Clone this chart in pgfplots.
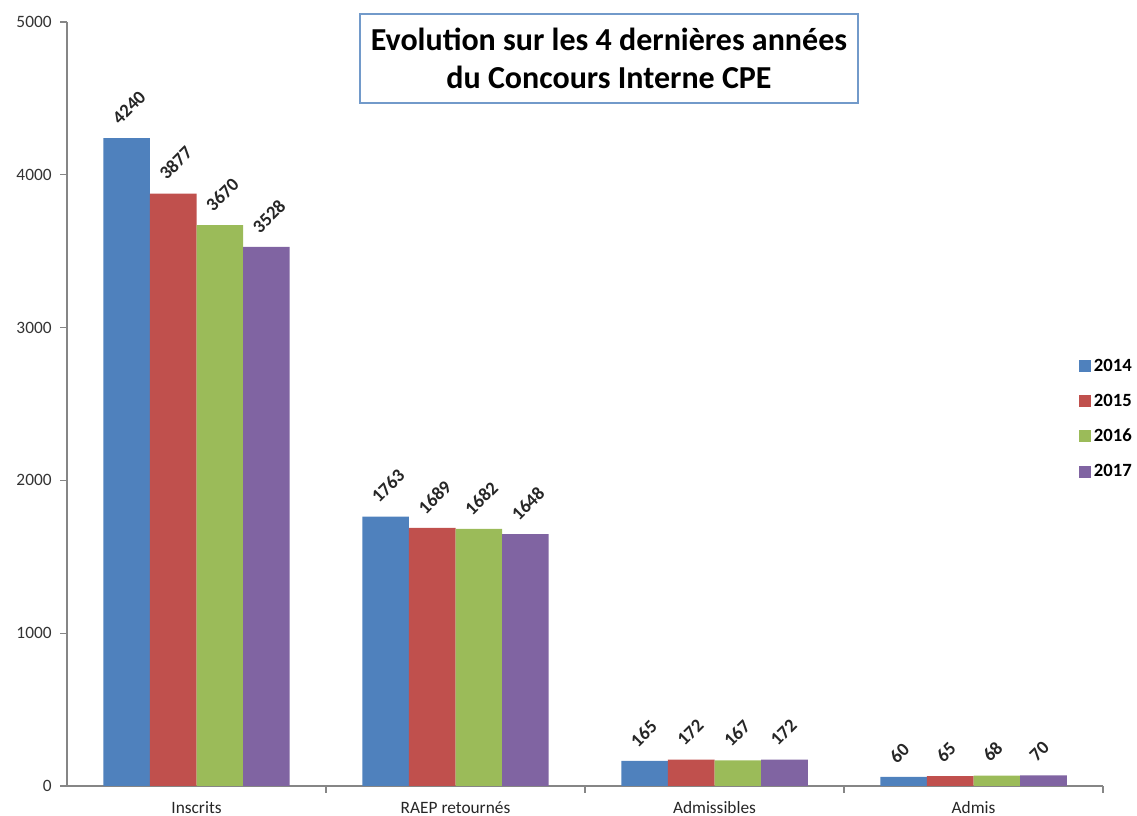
\documentclass[border=0pt]{standalone}
\usepackage{pgfplots}
\pgfplotsset{compat=1.18}
\usepackage{fontspec}
\setmainfont{Carlito}
\definecolor{cA}{HTML}{4F81BD}
\definecolor{cB}{HTML}{C0504D}
\definecolor{cC}{HTML}{9BBB59}
\definecolor{cD}{HTML}{8064A2}
\definecolor{axgray}{HTML}{868686}
\begin{document}
\begin{tikzpicture}
\useasboundingbox (0,0) rectangle (852.75pt,612pt);
\begin{axis}[
  at={(50.25pt,22.5pt)}, anchor=south west,
  scale only axis, width=777pt, height=573pt,
  xmin=-0.5, xmax=3.5, ymin=0, ymax=5000,
  axis x line*=bottom, axis y line*=left,
  axis line style={axgray, line width=0.8pt},
  ytick={0,1000,...,5000},
  xtick={0,1,2,3},
  xticklabels={Inscrits, RAEP retournés, Admissibles, Admis},
  minor xtick={0.5,1.5,2.5,3.5},
  major tick length=5pt, minor tick length=5pt,
  tick align=outside,
  major x tick style={draw=none},
  tick style={axgray, line width=0.8pt},
  /pgf/number format/assume math mode=true,
  /pgf/number format/1000 sep={},
  yticklabel style={font=\fontsize{13}{15}\selectfont, color=black!80, xshift=-3pt},
  xticklabel style={font=\fontsize{13}{15}\selectfont, color=black!85, inner sep=1pt, yshift=-5.5pt},
  bar width=0.18,
  nodes near coords,
  every node near coord/.append style={xshift=-9pt, yshift=12pt, rotate=45, anchor=west,
     font=\fontsize{14}{16}\selectfont\bfseries, color=black!85, inner sep=1pt},
  legend style={at={(0.973,0.566)}, anchor=north west, draw=none, fill=none,
     font=\fontsize{14}{16}\selectfont\bfseries, row sep=11.5pt,
     /tikz/every even column/.append style={column sep=2pt}},
  legend cell align=left,
  legend image code/.code={\fill[#1] (0pt,-4.5pt) rectangle (9pt,4.5pt);},
]
\addplot[ybar, fill=cA, draw=none, bar shift=0] coordinates {(-0.27,4240) (0.73,1763) (1.73,165) (2.73,60)};
\addplot[ybar, fill=cB, draw=none, bar shift=0] coordinates {(-0.09,3877) (0.91,1689) (1.91,172) (2.91,65)};
\addplot[ybar, fill=cC, draw=none, bar shift=0] coordinates {(0.09,3670) (1.09,1682) (2.09,167) (3.09,68)};
\addplot[ybar, fill=cD, draw=none, bar shift=0] coordinates {(0.27,3528) (1.27,1648) (2.27,172) (3.27,70)};
\legend{2014,2015,2016,2017}
\end{axis}
\node[draw=cA!80, line width=0.8pt, fill=white, minimum width=373.5pt, minimum height=66.75pt,
  align=center, inner sep=0pt, font=\fontsize{24}{28.5}\selectfont\bfseries]
  at (456.75pt,568.1pt) {Evolution sur les 4 dernières années\\du Concours Interne CPE};
\end{tikzpicture}
\end{document}
